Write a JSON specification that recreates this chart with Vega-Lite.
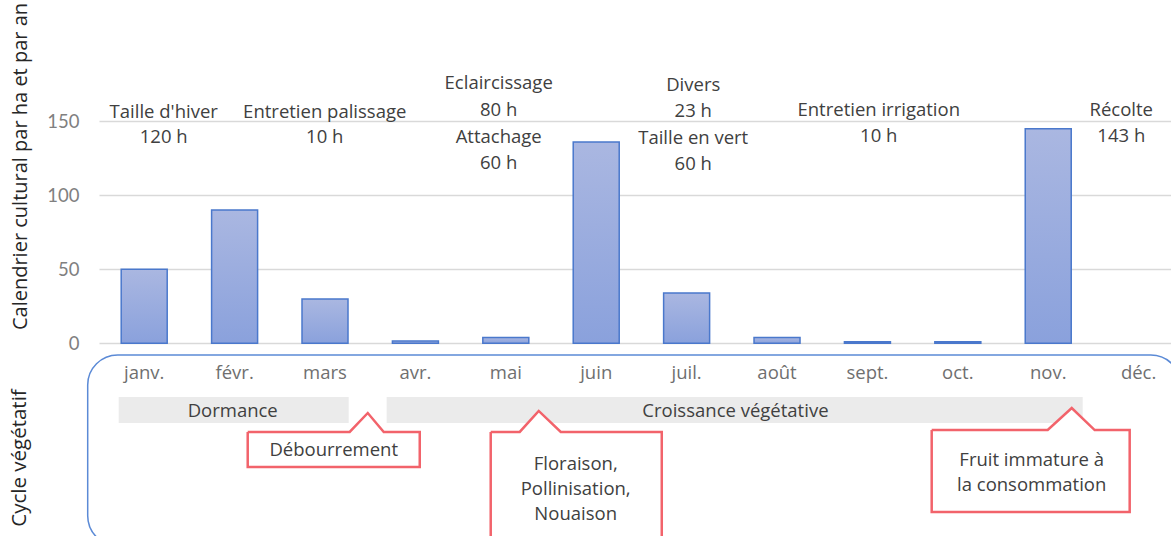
{
  "$schema": "https://vega.github.io/schema/vega-lite/v6.json",
  "width": 1072,
  "height": 536,
  "autosize": "none",
  "padding": {"left": 99, "top": 0, "right": 0, "bottom": 0},
  "background": "white",
  "config": {"view": {"stroke": null}, "font": "Open Sans"},
  "datasets": {
    "months": [
      {"m": 1, "mois": "janv.", "heures": 50},
      {"m": 2, "mois": "févr.", "heures": 90},
      {"m": 3, "mois": "mars", "heures": 30},
      {"m": 4, "mois": "avr.", "heures": 1.5},
      {"m": 5, "mois": "mai", "heures": 4},
      {"m": 6, "mois": "juin", "heures": 136},
      {"m": 7, "mois": "juil.", "heures": 34},
      {"m": 8, "mois": "août", "heures": 4},
      {"m": 9, "mois": "sept.", "heures": 1},
      {"m": 10, "mois": "oct.", "heures": 1},
      {"m": 11, "mois": "nov.", "heures": 145},
      {"m": 12, "mois": "déc.", "heures": null}
    ],
    "travaux": [
      {"texte": "Taille d'hiver", "m": 1.216, "v": 156.5},
      {"texte": "120 h", "m": 1.216, "v": 139.6},
      {"texte": "Entretien palissage", "m": 2.997, "v": 156.5},
      {"texte": "10 h", "m": 2.997, "v": 139.6},
      {"texte": "Eclaircissage", "m": 4.921, "v": 175.7},
      {"texte": "80 h", "m": 4.921, "v": 157.6},
      {"texte": "Attachage", "m": 4.921, "v": 139.2},
      {"texte": "60 h", "m": 4.921, "v": 121.6},
      {"texte": "Divers", "m": 7.073, "v": 174.5},
      {"texte": "23 h", "m": 7.073, "v": 157.2},
      {"texte": "Taille en vert", "m": 7.073, "v": 138.5},
      {"texte": "60 h", "m": 7.073, "v": 121.1},
      {"texte": "Entretien irrigation", "m": 9.125, "v": 157.6},
      {"texte": "10 h", "m": 9.125, "v": 140.1},
      {"texte": "Récolte", "m": 11.808, "v": 157.6},
      {"texte": "143 h", "m": 11.808, "v": 140.1}
    ],
    "phases": [
      {"phase": "Dormance", "debut": 0.718, "fin": 3.262, "centre": 1.979},
      {"phase": "Croissance végétative", "debut": 3.682, "fin": 11.381, "centre": 7.54}
    ],
    "bulles": [
      {"bulle": "Débourrement", "i": 0, "m": 2.145, "v": -59.9},
      {"bulle": "Débourrement", "i": 1, "m": 3.273, "v": -59.9},
      {"bulle": "Débourrement", "i": 2, "m": 3.473, "v": -47.1},
      {"bulle": "Débourrement", "i": 3, "m": 3.65, "v": -59.9},
      {"bulle": "Débourrement", "i": 4, "m": 4.048, "v": -59.9},
      {"bulle": "Débourrement", "i": 5, "m": 4.048, "v": -83.6},
      {"bulle": "Débourrement", "i": 6, "m": 2.145, "v": -83.6},
      {"bulle": "Débourrement", "i": 7, "m": 2.145, "v": -59.9},
      {"bulle": "Floraison", "i": 0, "m": 4.833, "v": -59.9},
      {"bulle": "Floraison", "i": 1, "m": 5.154, "v": -59.9},
      {"bulle": "Floraison", "i": 2, "m": 5.364, "v": -45.7},
      {"bulle": "Floraison", "i": 3, "m": 5.608, "v": -59.9},
      {"bulle": "Floraison", "i": 4, "m": 6.725, "v": -59.9},
      {"bulle": "Floraison", "i": 5, "m": 6.725, "v": -150},
      {"bulle": "Floraison", "i": 6, "m": 4.833, "v": -150},
      {"bulle": "Floraison", "i": 7, "m": 4.833, "v": -59.9},
      {"bulle": "Fruit", "i": 0, "m": 9.711, "v": -58.6},
      {"bulle": "Fruit", "i": 1, "m": 10.994, "v": -58.6},
      {"bulle": "Fruit", "i": 2, "m": 11.26, "v": -43.7},
      {"bulle": "Fruit", "i": 3, "m": 11.514, "v": -58.6},
      {"bulle": "Fruit", "i": 4, "m": 11.901, "v": -58.6},
      {"bulle": "Fruit", "i": 5, "m": 11.901, "v": -114},
      {"bulle": "Fruit", "i": 6, "m": 9.711, "v": -114},
      {"bulle": "Fruit", "i": 7, "m": 9.711, "v": -58.6}
    ],
    "textes_bulles": [
      {"texte": "Débourrement", "m": 3.096, "v": -72.4},
      {"texte": "Floraison,", "m": 5.773, "v": -81.3},
      {"texte": "Pollinisation,", "m": 5.773, "v": -98.2},
      {"texte": "Nouaison", "m": 5.773, "v": -115.5},
      {"texte": "Fruit immature à", "m": 10.817, "v": -78.9},
      {"texte": "la consommation", "m": 10.817, "v": -95.8}
    ]
  },
  "encoding": {
    "x": {"type": "quantitative", "scale": {"domain": [0.5, 12.358], "nice": false, "zero": false, "padding": 0}, "axis": null},
    "y": {"type": "quantitative", "scale": {"domain": [-130.2, 231.96], "nice": false, "zero": false, "padding": 0}}
  },
  "layer": [
    {
      "data": {"name": "months"},
      "mark": {
        "type": "bar",
        "size": 46,
        "color": {"gradient": "linear", "x1": 0, "y1": 0, "x2": 0, "y2": 1, "stops": [{"offset": 0, "color": "#aab7e1"}, {"offset": 1, "color": "#8aa1dc"}]},
        "stroke": "#4a78cc",
        "strokeWidth": 1.5
      },
      "encoding": {
        "x": {"field": "m"},
        "y": {
          "field": "heures",
          "axis": {
            "values": [0, 50, 100, 150],
            "grid": true,
            "gridColor": "#d9d9d9",
            "gridWidth": 1.5,
            "domain": false,
            "ticks": false,
            "labelPadding": 20,
            "labelFontSize": 18.5,
            "labelColor": "#808080",
            "labelFont": "Lato",
            "title": "Calendrier cultural par ha et par an",
            "titleFont": "Open Sans",
            "titleFontSize": 20,
            "titleFontWeight": "normal",
            "titleColor": "#262626",
            "titleX": -79,
            "titleY": 166,
            "titleAngle": 270,
            "titleAlign": "center",
            "titleBaseline": "middle"
          }
        },
        "y2": {"datum": 0}
      }
    },
    {
      "data": {"name": "months"},
      "mark": {"type": "text", "fontSize": 18.5, "color": "#6f6f6f", "baseline": "middle", "align": "center"},
      "encoding": {
        "x": {"field": "m"},
        "y": {"datum": -20.3},
        "text": {"field": "mois"}
      }
    },
    {
      "data": {"name": "travaux"},
      "mark": {"type": "text", "fontSize": 18.5, "color": "#404040", "baseline": "middle", "align": "center"},
      "encoding": {
        "x": {"field": "m"},
        "y": {"field": "v"},
        "text": {"field": "texte"}
      }
    },
    {
      "data": {"name": "phases"},
      "mark": {"type": "rect", "color": "#ebebeb"},
      "encoding": {
        "x": {"field": "debut"},
        "x2": {"field": "fin"},
        "y": {"datum": -36.3},
        "y2": {"datum": -53.9}
      }
    },
    {
      "data": {"name": "phases"},
      "mark": {"type": "text", "fontSize": 18.5, "color": "#404040", "baseline": "middle", "align": "center"},
      "encoding": {
        "x": {"field": "centre"},
        "y": {"datum": -45.6},
        "text": {"field": "phase"}
      }
    },
    {
      "data": {"name": "bulles"},
      "mark": {"type": "line", "stroke": "#f2636b", "fill": "white", "strokeWidth": 2.5, "strokeJoin": "miter", "interpolate": "linear"},
      "encoding": {
        "x": {"field": "m"},
        "y": {"field": "v"},
        "detail": {"field": "bulle"},
        "order": {"field": "i"}
      }
    },
    {
      "data": {"name": "textes_bulles"},
      "mark": {"type": "text", "fontSize": 18.5, "color": "#404040", "baseline": "middle", "align": "center"},
      "encoding": {
        "x": {"field": "m"},
        "y": {"field": "v"},
        "text": {"field": "texte"}
      }
    },
    {
      "data": {"values": [{"cadre": "Cycle végétatif", "debut": 0.375, "fin": 12.466, "centre": -0.377}]},
      "mark": {"type": "rect", "fill": null, "fillOpacity": 0, "stroke": "#5b8ad6", "strokeWidth": 1.5, "cornerRadius": 30},
      "encoding": {
        "x": {"field": "debut"},
        "x2": {"field": "fin"},
        "y": {"datum": -7.9},
        "y2": {"datum": -136.8}
      }
    },
    {
      "data": {"values": [{"cadre": "Cycle végétatif", "centre": -0.377}]},
      "mark": {"type": "text", "fontSize": 20.5, "color": "#262626", "angle": 270, "baseline": "middle", "align": "center"},
      "encoding": {
        "x": {"field": "centre"},
        "y": {"datum": -77.5},
        "text": {"field": "cadre"}
      }
    }
  ]
}
